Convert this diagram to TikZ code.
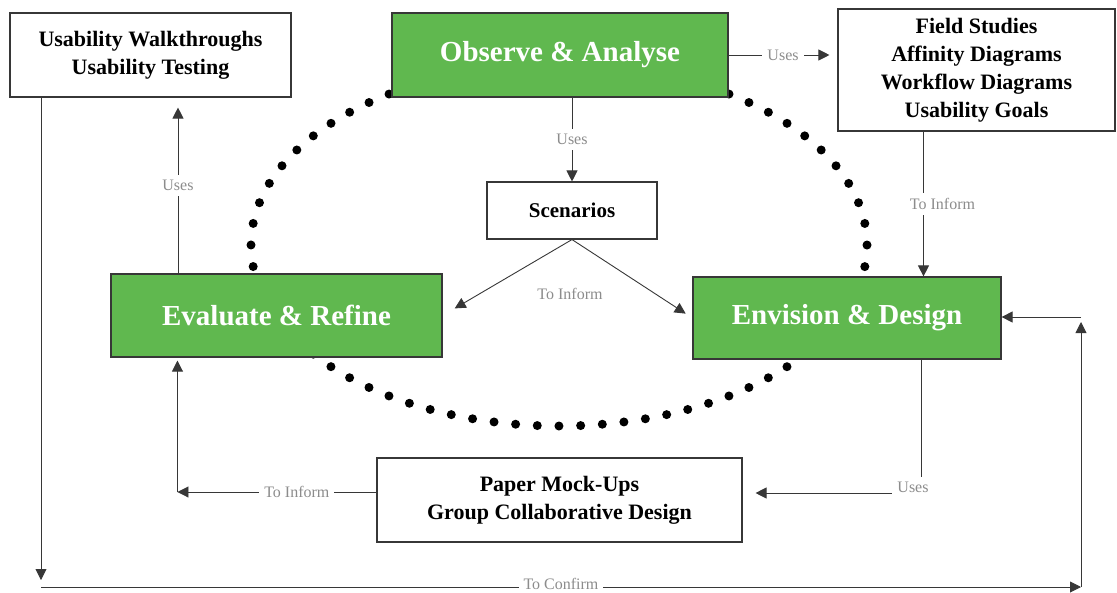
\documentclass[tikz,border=0pt]{standalone}
\usepackage{fontspec}
\setmainfont{Liberation Serif}
\usetikzlibrary{arrows.meta}
\definecolor{stagegreen}{RGB}{96,184,79}
\definecolor{linegray}{RGB}{55,55,55}

\begin{document}
\begin{tikzpicture}[x=1pt, y=-1pt,
    stage/.style={draw=linegray, line width=1.2pt, fill=stagegreen, text=white,
      font=\fontsize{29}{34}\selectfont\bfseries, inner sep=0pt},
    method/.style={draw=linegray, line width=1.1pt, fill=white,
      font=\fontsize{22}{28}\selectfont\bfseries, align=center, inner sep=0pt},
    lbl/.style={fill=white, text=black!45, font=\fontsize{16}{18}\selectfont, inner sep=5pt},
    arr/.style={draw=linegray, line width=0.9pt, -{Triangle[length=11pt,width=11pt]}},
    ln/.style={draw=linegray, line width=0.9pt}]
    \useasboundingbox (0,0) rectangle (1117,592);
    % 点線の楕円（箱の下に描く）
    \draw[line width=9pt, line cap=round, dash pattern=on 0pt off 21.7pt]
        (559,245) ellipse [x radius=308pt, y radius=181pt];

    % 四つの段階
    \node[stage, minimum width=336pt, minimum height=84pt] (obs) at (560,55) {Observe \& Analyse};
    \node[stage, minimum width=331pt, minimum height=83pt] (eval) at (276.5,315.5) {Evaluate \& Refine};
    \node[stage, minimum width=308pt, minimum height=82pt] (envi) at (847,318) {Envision \& Design};

    % 手法の箱
    \node[method, minimum width=281pt, minimum height=84pt] (walk) at (150.5,55) {\raisebox{-3pt}{Usability Walkthroughs}\\\raisebox{-3pt}{Usability Testing}};
    \node[method, minimum width=277pt, minimum height=122pt] (field) at (976.5,70) {Field Studies\\Affinity Diagrams\\Workflow Diagrams\\Usability Goals};
    \node[method, minimum width=170pt, minimum height=57pt, font=\fontsize{21}{25}\selectfont\bfseries] (scen) at (572,210.5) {Scenarios};
    \node[method, minimum width=365pt, minimum height=84pt] (paper) at (559.5,500) {Paper Mock-Ups\\Group Collaborative Design};

    % 矢印
    \draw[arr, shorten >=8pt] (obs.east) -- node[lbl] {Uses} (obs.east -| field.west);
    \draw[arr] (scen.north |- obs.south) -- node[lbl] {Uses} (scen.north);
    \draw[arr, shorten >=14pt] (scen.south) -- (eval.east);
    \draw[arr, shorten >=8pt] (scen.south) -- (envi.west);
    \node[lbl] (inform) at (570,294) {To Inform};
    \draw[arr] ([xshift=-53pt]field.south) -- node[lbl, xshift=19pt] {To Inform} ([xshift=-53pt]field.south |- envi.north);
    \draw[arr, shorten >=10pt] ([xshift=-98.5pt]eval.north) -- node[lbl] {Uses} ([xshift=-98.5pt]eval.north |- walk.south);
    \draw[arr, shorten >=13pt] ([xshift=74pt]envi.south) |- node[lbl, xshift=-8pt, yshift=6pt] {Uses} ([yshift=7pt]paper.east);
    \draw[arr] ([yshift=8pt]paper.west) -- node[lbl, pos=.4] {To Inform} ++(-199,0) coordinate (back);
    \draw[arr, shorten >=3pt] (back) -- (back |- eval.south);

    % 確認のループ
    \coordinate (cl) at (41,587);
    \coordinate (cr) at (1081,587);
    \coordinate (ct) at (1081,317);
    \draw[arr, shorten >=7pt] ([xshift=-109.5pt]walk.south) -- (cl);
    \draw[arr] (cl) -- node[lbl, inner ysep=0pt, yshift=3pt] {To Confirm} (cr);
    \draw[arr, shorten >=5pt] (cr) -- (ct);
    \draw[arr] (ct) -- (ct -| envi.east);
\end{tikzpicture}
\end{document}
